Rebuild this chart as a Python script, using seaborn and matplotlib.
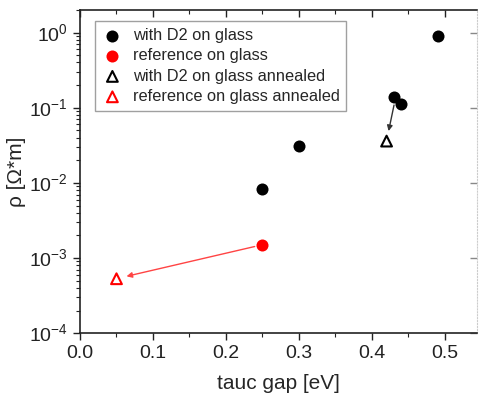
import matplotlib
matplotlib.use("Agg")
import matplotlib.pyplot as plt
import seaborn as sns
import numpy as np

sns.set_style("ticks")
plt.rcParams['font.family'] = ['Liberation Sans', 'DejaVu Sans']
plt.rcParams['mathtext.fontset'] = 'custom'
plt.rcParams['mathtext.rm'] = 'Liberation Sans'

d2_x = [0.25, 0.30, 0.43, 0.44, 0.49]
d2_y = [0.0083, 0.031, 0.14, 0.113, 0.91]
ref_x = [0.25]
ref_y = [0.0015]
d2a_x = [0.42]
d2a_y = [0.036]
refa_x = [0.05]
refa_y = [0.00053]

labels = ["with D2 on glass", "reference on glass",
          "with D2 on glass annealed", "reference on glass annealed"]

fig = plt.figure(figsize=(4.79, 3.99), dpi=100)
ax = fig.add_axes([0.167, 0.165, 0.829, 0.81])

sns.scatterplot(x=d2_x, y=d2_y, ax=ax, color='black', marker='o', s=75,
                edgecolor='black', linewidth=0, label=labels[0], zorder=3)
sns.scatterplot(x=ref_x, y=ref_y, ax=ax, color='red', marker='o', s=75,
                edgecolor='red', linewidth=0, label=labels[1], zorder=3)
ax.scatter(d2a_x, d2a_y, marker='^', s=60, facecolors='none',
           edgecolors='black', linewidths=1.5, label=labels[2], zorder=3)
ax.scatter(refa_x, refa_y, marker='^', s=60, facecolors='none',
           edgecolors='red', linewidths=1.5, label=labels[3], zorder=3)

ax.set_yscale('log')
ax.set_xlim(0, 0.544)
ax.set_ylim(1e-4, 2)

# arrows
ax.annotate('', xy=(0.422, 0.045), xytext=(0.431, 0.118),
            arrowprops=dict(arrowstyle='-|>', color='#333333', lw=1,
                            mutation_scale=8))
ax.annotate('', xy=(0.06, 0.00056), xytext=(0.243, 0.00145),
            arrowprops=dict(arrowstyle='-|>', color='#ff4444', lw=1,
                            mutation_scale=8))

ax.set_xticks([0.0, 0.1, 0.2, 0.3, 0.4, 0.5])
ax.set_xticklabels(["0.0", "0.1", "0.2", "0.3", "0.4", "0.5"])
ax.set_xticks(np.arange(0.05, 0.55, 0.1), minor=True)
ax.set_yticks([1e-4, 1e-3, 1e-2, 1e-1, 1e0])
ax.set_yticklabels([r'$10^{-4}$', r'$10^{-3}$', r'$10^{-2}$', r'$10^{-1}$', r'$10^{0}$'])

ax.tick_params(axis='both', which='major', labelsize=14, length=5, width=1,
               direction='out', colors='#222222')
ax.tick_params(axis='both', which='minor', length=3, width=0.8, direction='out',
               colors='#222222')

# mirrored top / right axes with inward ticks
axt = ax.secondary_xaxis('top')
axt.set_xticks([0.0, 0.1, 0.2, 0.3, 0.4, 0.5])
axt.set_xticks(np.arange(0.05, 0.55, 0.1), minor=True)
axt.tick_params(which='major', direction='in', length=5, width=1, labeltop=False, colors='#222222')
axt.tick_params(which='minor', direction='in', length=3, width=0.8, labeltop=False, colors='#222222')
axt.spines['top'].set_linewidth(1.2)
axt.spines['top'].set_color('#222222')
axr = ax.secondary_yaxis('right')
axr.set_yticks([1e-4, 1e-3, 1e-2, 1e-1, 1e0])
axr.tick_params(which='major', direction='in', length=5, width=1, labelright=False, colors='#888888')
axr.tick_params(which='minor', length=0, labelright=False)
axr.spines['right'].set_color('#cccccc')
axr.spines['right'].set_linewidth(0.8)
axr.spines['right'].set_linestyle(':')

for s in ['left', 'bottom']:
    ax.spines[s].set_linewidth(1.2)
    ax.spines[s].set_color('#222222')
ax.spines['top'].set_visible(False)
ax.spines['right'].set_visible(False)

ax.set_xlabel('tauc gap [eV]', fontsize=15, labelpad=9)
ax.set_ylabel('ρ [Ω*m]', fontsize=15, labelpad=2)

leg = ax.legend(loc='upper left', bbox_to_anchor=(0.03, 0.975), fontsize=11.8,
                frameon=True, fancybox=False, edgecolor='#888888',
                handletextpad=0.6, borderpad=0.4, labelspacing=0.33,
                handlelength=1.3, markerscale=1.0, borderaxespad=0.2)
leg.get_frame().set_linewidth(1)

fig.savefig('out.png', dpi=100)
